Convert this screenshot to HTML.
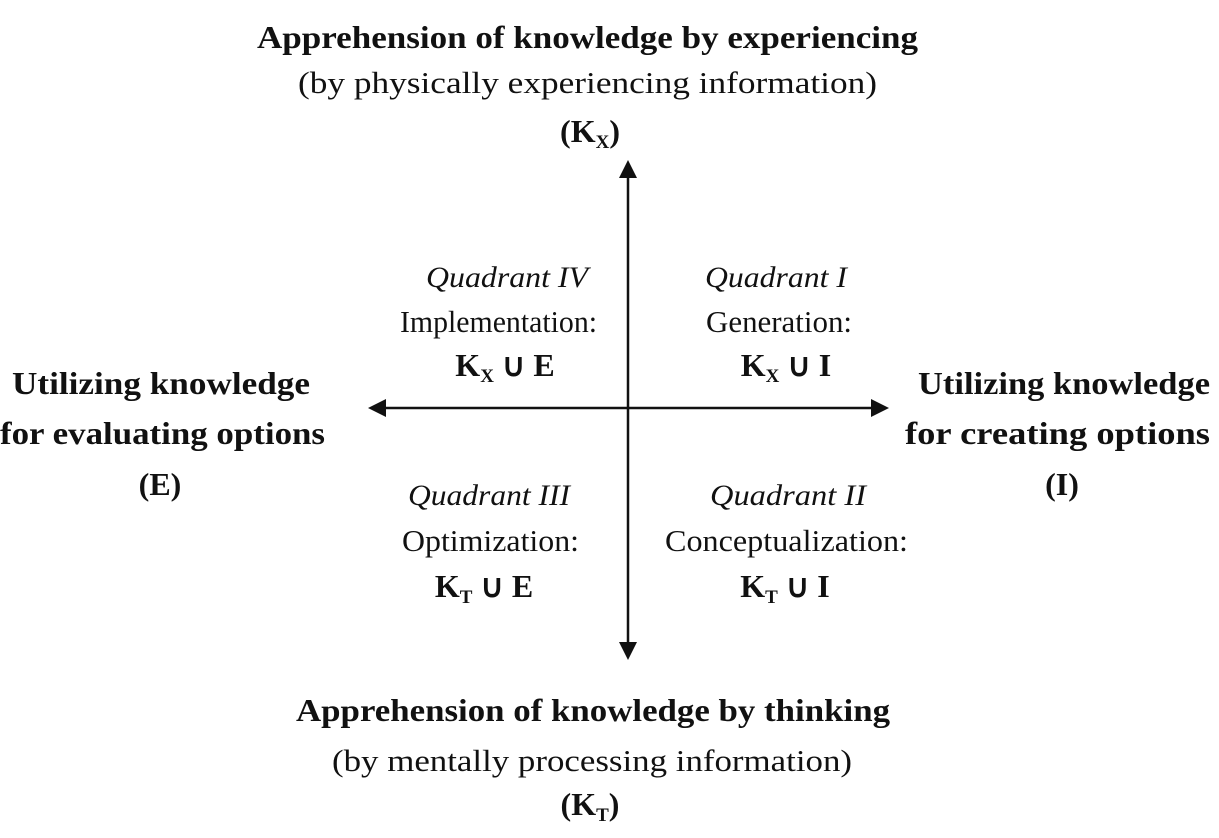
<!DOCTYPE html>
<html><head><meta charset="utf-8"><style>
html,body{margin:0;padding:0;background:#fff;}
svg{display:block;}
text{font-family:"Liberation Serif",serif;fill:#111;}
.b{font-weight:bold;font-size:32px;}
.r{font-size:31px;}
.i{font-style:italic;font-size:30px;}
.s{font-size:19px;}
</style></head><body>
<svg width="1219" height="838" viewBox="0 0 1219 838" xmlns="http://www.w3.org/2000/svg">
<line x1="628" y1="175" x2="628" y2="645" stroke="#111" stroke-width="2.5"/>
<polygon points="628,160 619,178 637,178" fill="#111"/>
<polygon points="628,660 619,642 637,642" fill="#111"/>
<line x1="385" y1="408" x2="872" y2="408" stroke="#111" stroke-width="2.5"/>
<polygon points="368,408 386,399 386,417" fill="#111"/>
<polygon points="889,408 871,399 871,417" fill="#111"/>

<text class="b" x="257" y="48" textLength="661" lengthAdjust="spacingAndGlyphs">Apprehension of knowledge by experiencing</text>
<text class="r" x="298" y="93" textLength="579" lengthAdjust="spacingAndGlyphs">(by physically experiencing information)</text>
<text class="b" x="590" y="142" text-anchor="middle">(K<tspan class="s" dy="6">X</tspan><tspan dy="-6">)</tspan></text>

<text class="i" x="426" y="287" textLength="162" lengthAdjust="spacingAndGlyphs">Quadrant IV</text>
<text class="r" x="400" y="332" textLength="197" lengthAdjust="spacingAndGlyphs">Implementation:</text>
<text class="b" x="505" y="376" text-anchor="middle">K<tspan class="s" dy="6">X</tspan><tspan dy="-6"> ∪ E</tspan></text>

<text class="i" x="705" y="287" textLength="142" lengthAdjust="spacingAndGlyphs">Quadrant I</text>
<text class="r" x="706" y="332" textLength="146" lengthAdjust="spacingAndGlyphs">Generation:</text>
<text class="b" x="786" y="376" text-anchor="middle">K<tspan class="s" dy="6">X</tspan><tspan dy="-6"> ∪ I</tspan></text>

<text class="b" x="12" y="394" textLength="298" lengthAdjust="spacingAndGlyphs">Utilizing knowledge</text>
<text class="b" x="0" y="444" textLength="325" lengthAdjust="spacingAndGlyphs">for evaluating options</text>
<text class="b" x="160" y="495" text-anchor="middle">(E)</text>

<text class="b" x="918" y="394" textLength="292" lengthAdjust="spacingAndGlyphs">Utilizing knowledge</text>
<text class="b" x="905" y="444" textLength="305" lengthAdjust="spacingAndGlyphs">for creating options</text>
<text class="b" x="1062" y="495" text-anchor="middle">(I)</text>

<text class="i" x="408" y="505" textLength="162" lengthAdjust="spacingAndGlyphs">Quadrant III</text>
<text class="r" x="402" y="551" textLength="177" lengthAdjust="spacingAndGlyphs">Optimization:</text>
<text class="b" x="484" y="597" text-anchor="middle">K<tspan class="s" dy="6">T</tspan><tspan dy="-6"> ∪ E</tspan></text>

<text class="i" x="710" y="505" textLength="156" lengthAdjust="spacingAndGlyphs">Quadrant II</text>
<text class="r" x="665" y="551" textLength="243" lengthAdjust="spacingAndGlyphs">Conceptualization:</text>
<text class="b" x="785" y="597" text-anchor="middle">K<tspan class="s" dy="6">T</tspan><tspan dy="-6"> ∪ I</tspan></text>

<text class="b" x="296" y="721" textLength="594" lengthAdjust="spacingAndGlyphs">Apprehension of knowledge by thinking</text>
<text class="r" x="332" y="771" textLength="520" lengthAdjust="spacingAndGlyphs">(by mentally processing information)</text>
<text class="b" x="590" y="815" text-anchor="middle">(K<tspan class="s" dy="6">T</tspan><tspan dy="-6">)</tspan></text>
</svg>
</body></html>
